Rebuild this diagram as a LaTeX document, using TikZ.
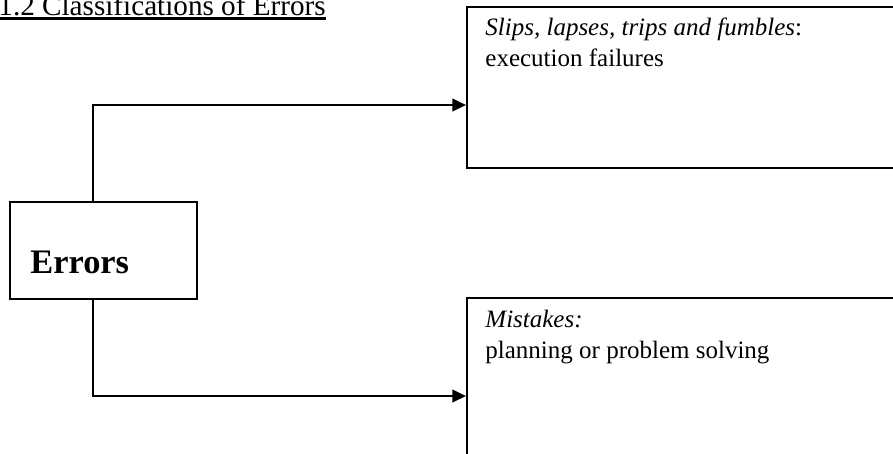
\documentclass[tikz,border=0pt]{standalone}
\usepackage{fontspec}
\setmainfont{Liberation Serif}
\usetikzlibrary{arrows.meta}
\begin{document}
\begin{tikzpicture}[x=0.48pt,y=-0.48pt,
  box/.style={draw, line width=1pt, inner sep=0pt},
  link/.style={line width=1pt, -{Triangle[length=6.5pt,width=6pt]}},
  boxtext/.style={anchor=base west, inner sep=0pt,
    font=\fontsize{12}{14}\selectfont}]
\useasboundingbox (0,0) rectangle (893,453);
\clip (0,0) rectangle (893,453);

% heading
\node[anchor=base west, inner sep=0pt, font=\fontsize{14}{16}\selectfont]
  (title) at (-2,15) {1.2 Classifications of Errors};
\draw[line width=1pt] (title.base west) ++(0,3.5) coordinate (ul)
  (ul) -- (ul -| title.base east);

% boxes
\node[box, minimum width=255.84pt, minimum height=77.28pt] (slips) at (733.5,87.5) {};
\node[box, minimum width=255.84pt, minimum height=125.76pt] (mistakes) at (733.5,429) {};
\node[box, minimum width=89.76pt, minimum height=46.56pt] (errors) at (103.5,250.5) {};

% box texts
\node[boxtext, font=\fontsize{16.5}{18}\selectfont\bfseries] (errlabel) at (30,273) {Errors};
\node[boxtext] (slipshead) at (485,35) {\textit{Slips, lapses, trips and fumbles}:};
\node[boxtext] (slipsdesc) at (485,66) {execution failures};
\node[boxtext] (mishead) at (485,327) {\textit{Mistakes:}};
\node[boxtext] (misdesc) at (485,358) {planning or problem solving};

% connectors
\coordinate (trunk) at (93,0);
\coordinate (upper) at (0,105);
\coordinate (lower) at (0,396);
\draw[link] (errors.north -| trunk) |- (slips.west |- upper);
\draw[link] (errors.south -| trunk) |- (mistakes.west |- lower);
\end{tikzpicture}
\end{document}
